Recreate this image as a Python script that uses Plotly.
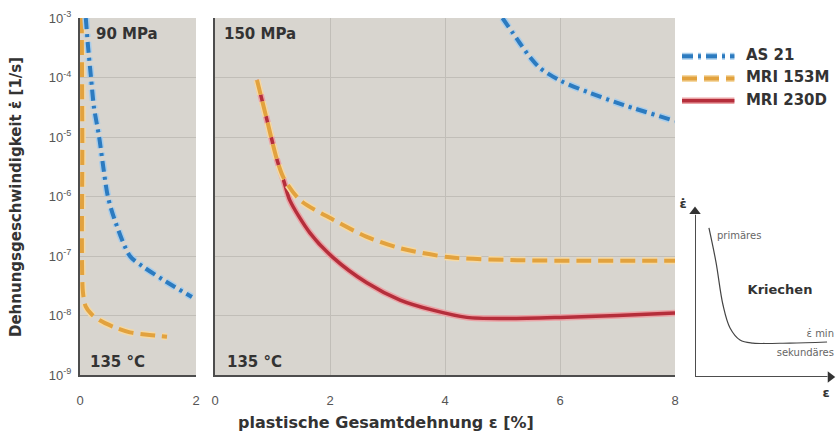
import plotly.graph_objects as go

# ---------------- data ----------------
# 90 MPa panel (left)
l_as21_x = [0.10, 0.14, 0.19, 0.24, 0.33, 0.40, 0.48, 0.60, 0.86, 1.09, 1.43, 1.93]
l_as21_y = [1e-3, 3.2e-4, 1e-4, 3.2e-5, 1e-5, 3.2e-6, 1e-6, 4e-7, 1e-7, 6.6e-8, 4e-8, 2.04e-8]
l_153_x = [0.03, 0.04, 0.05, 0.10, 0.20, 0.34, 0.60, 0.86, 1.20, 1.50]
l_153_y = [1e-3, 1e-5, 2.5e-8, 1.41e-8, 1.05e-8, 8.3e-9, 6.3e-9, 5.2e-9, 4.7e-9, 4.4e-9]

# 150 MPa panel (right)
r_as21_x = [5.0, 5.30, 5.48, 5.65, 6.0, 6.52, 7.1, 8.0]
r_as21_y = [1e-3, 3.8e-4, 2.19e-4, 1.45e-4, 8.9e-5, 5.5e-5, 3.47e-5, 1.86e-5]
r_153_x = [0.73, 0.90, 1.08, 1.20, 1.48, 2.05, 2.64, 3.22, 4.09, 5.25, 6.5, 8.0]
r_153_y = [9.1e-5, 2.0e-5, 4.1e-6, 2.0e-6, 8.7e-7, 4.1e-7, 2.1e-7, 1.35e-7, 9.5e-8, 8.5e-8, 8.3e-8, 8.3e-8]
r_230_x = [0.73, 0.90, 1.08, 1.20, 1.30, 1.65, 2.05, 2.64, 3.22, 3.79, 4.38, 5.0, 6.0, 7.0, 8.0]
r_230_y = [9.1e-5, 2.0e-5, 4.1e-6, 1.78e-6, 8.7e-7, 2.45e-7, 9.5e-8, 3.55e-8, 1.82e-8, 1.23e-8,
           9.3e-9, 8.9e-9, 9.3e-9, 1.0e-8, 1.1e-8]

# schematic inset curve (arbitrary units)
ins_x = [1.01, 1.52, 2.03, 2.54, 3.26, 4.20, 6.88, 9.57]
ins_y = [8.82, 6.80, 4.26, 2.90, 2.19, 2.01, 2.01, 2.07]

series_names = ["AS 21", "MRI 153M", "MRI 230D"]
y_tickvals = [1e-9, 1e-8, 1e-7, 1e-6, 1e-5, 1e-4, 1e-3]
y_ticktext = ["10<sup>-9</sup>", "10<sup>-8</sup>", "10<sup>-7</sup>", "10<sup>-6</sup>",
              "10<sup>-5</sup>", "10<sup>-4</sup>", "10<sup>-3</sup>"]
xl_ticks = [0, 2]
xr_ticks = [0, 2, 4, 6, 8]

# ---------------- styling ----------------
W, H = 837, 434
BLUE, BLUE_H = "#2c7bc0", "#a8cdeb"
ORNG, ORNG_H = "#e2a23e", "#f5d9a4"
RED, RED_H = "#b52e3b", "#eba3a6"
BLUE_DASH = "11px,5px,3px,5px"
ORNG_DASH = "15px,7px"
BG = "#d8d5cf"
GRID = "#c1beb8"
TXT = "#333333"
AXC = "#4d4d4d"
FONT = "Liberation Sans, Arial"
BFONT = "DejaVu Sans"

def px(x):
    return x / W

def py(y):
    return 1 - y / H

fig = go.Figure()

def add(x, y, color, halo, dash, width, xa, ya):
    fig.add_trace(go.Scatter(x=x, y=y, mode="lines", xaxis=xa, yaxis=ya,
                             line=dict(color=halo, width=width + 3, dash=dash, shape="spline", smoothing=0.8),
                             showlegend=False, hoverinfo="skip"))
    fig.add_trace(go.Scatter(x=x, y=y, mode="lines", xaxis=xa, yaxis=ya,
                             line=dict(color=color, width=width, dash=dash, shape="spline", smoothing=0.8),
                             showlegend=False))

# left panel
add(l_153_x, l_153_y, ORNG, ORNG_H, ORNG_DASH, 4, "x", "y")
add(l_as21_x, l_as21_y, BLUE, BLUE_H, BLUE_DASH, 4, "x", "y")
# right panel
add(r_230_x, r_230_y, RED, RED_H, "solid", 3.5, "x2", "y2")
add(r_153_x, r_153_y, ORNG, ORNG_H, ORNG_DASH, 4, "x2", "y2")
add(r_as21_x, r_as21_y, BLUE, BLUE_H, BLUE_DASH, 4, "x2", "y2")

# inset: schematic axes with arrow heads and curve
fig.add_trace(go.Scatter(x=[0, 0, None, 0, 9.6], y=[9.6, 0, None, 0, 0], mode="lines", xaxis="x3", yaxis="y3",
                         line=dict(color=AXC, width=2), showlegend=False, hoverinfo="skip", cliponaxis=False))
fig.add_trace(go.Scatter(x=[0, 9.8], y=[9.8, 0], mode="markers", xaxis="x3", yaxis="y3",
                         marker=dict(symbol=["triangle-up", "triangle-right"], size=10, color="#333333"),
                         showlegend=False, hoverinfo="skip", cliponaxis=False))
fig.add_trace(go.Scatter(x=ins_x, y=ins_y, mode="lines", xaxis="x3", yaxis="y3",
                         line=dict(color="#444444", width=1.2, shape="spline", smoothing=1.0),
                         showlegend=False, hoverinfo="skip"))

# manual legend in its own hidden axes (rows 2,1,0 from top)
leg_styles = [(BLUE, BLUE_H, BLUE_DASH, 4), (ORNG, ORNG_H, ORNG_DASH, 4), (RED, RED_H, "solid", 3.5)]
for i, (name, (c, h, d, w)) in enumerate(zip(series_names, leg_styles)):
    row = 2 - i
    fig.add_trace(go.Scatter(x=[0, 1], y=[row, row], mode="lines", xaxis="x4", yaxis="y4",
                             line=dict(color=h, width=w + 3, dash=d), showlegend=False, hoverinfo="skip"))
    fig.add_trace(go.Scatter(x=[0, 1], y=[row, row], mode="lines", xaxis="x4", yaxis="y4",
                             line=dict(color=c, width=w, dash=d), showlegend=False, hoverinfo="skip"))
    fig.add_trace(go.Scatter(x=[1.22], y=[row], mode="text", text=[name], textposition="middle right",
                             xaxis="x4", yaxis="y4", showlegend=False, hoverinfo="skip", cliponaxis=False,
                             textfont=dict(family=BFONT, size=15, color=TXT, weight="bold")))

# free text labels on a full-figure overlay axis measured in pixels
def label(t, x, y, size, pos="middle center", bold=True, color=TXT):
    fig.add_trace(go.Scatter(x=[x], y=[y], mode="text", text=[t], textposition=pos,
                             xaxis="x5", yaxis="y5", showlegend=False, hoverinfo="skip", cliponaxis=False,
                             textfont=dict(family=BFONT, size=size, color=color,
                                           weight="bold" if bold else "normal")))

label("90 MPa", 96, 35, 15, "middle right")
label("150 MPa", 224, 35, 15, "middle right")
label("135 °C", 90, 363, 15, "middle right")
label("135 °C", 227, 363, 15, "middle right")
label("plastische Gesamtdehnung ε [%]", 386, 424, 16)
label("ε̇", 683, 205, 13)
label("ε", 826, 394, 13)
label("primäres", 717, 236, 10, "middle right", bold=False, color="#666666")
label("Kriechen", 780, 291, 13)
label("ε̇ min", 834, 334, 10, "middle left", bold=False, color="#666666")
label("sekundäres", 834, 353, 10, "middle left", bold=False, color="#666666")

tickfont = dict(family=FONT, size=13, color="#555555")
common_y = dict(type="log", range=[-9, -3], tickvals=y_tickvals, showgrid=True, gridcolor=GRID,
                gridwidth=1, zeroline=False, showline=True, linecolor=AXC, linewidth=2,
                ticks="outside", ticklen=4, tickcolor="rgba(0,0,0,0)", domain=[py(375), py(18)])
common_x = dict(gridcolor=GRID, gridwidth=1, zeroline=False, showline=True,
                linecolor=AXC, linewidth=2, ticks="outside", ticklen=12, tickcolor="rgba(0,0,0,0)",
                tickfont=tickfont)

fig.update_layout(
    template="none",
    width=W, height=H, margin=dict(l=0, r=0, t=0, b=0, autoexpand=False),
    paper_bgcolor="white", plot_bgcolor="rgba(0,0,0,0)", showlegend=False,
    font=dict(family=FONT, color=TXT, size=12),
    xaxis=dict(domain=[px(80), px(196)], range=[0, 2], tickvals=xl_ticks, anchor="y",
               showgrid=False, **common_x),
    xaxis2=dict(domain=[px(215), px(675)], range=[0, 8], tickvals=xr_ticks, anchor="y2",
                showgrid=True, **common_x),
    yaxis=dict(anchor="x", ticktext=y_ticktext, tickfont=tickfont, **common_y),
    yaxis2=dict(anchor="x2", matches="y", showticklabels=False, **common_y),
    xaxis3=dict(domain=[px(695), px(833)], range=[0, 10], visible=False, anchor="y3"),
    yaxis3=dict(domain=[py(377), py(208)], range=[0, 10], visible=False, anchor="x3"),
    xaxis4=dict(domain=[px(682), px(834)], range=[0, 2.9], visible=False, anchor="y4"),
    yaxis4=dict(domain=[py(112), py(45)], range=[-0.5, 2.5], visible=False, anchor="x4"),
    xaxis5=dict(domain=[0, 1], range=[0, W], visible=False, anchor="y5"),
    yaxis5=dict(domain=[0, 1], range=[H, 0], visible=False, anchor="x5"),
    shapes=[
        dict(type="rect", xref="x domain", yref="y domain", x0=0, x1=1, y0=0, y1=1,
             fillcolor=BG, line=dict(width=0), layer="below"),
        dict(type="rect", xref="x2 domain", yref="y2 domain", x0=0, x1=1, y0=0, y1=1,
             fillcolor=BG, line=dict(width=0), layer="below"),
    ],
    annotations=[dict(text="Dehnungsgeschwindigkeit ε̇ [1/s]", x=px(16), y=py(197), xref="paper",
                      yref="paper", textangle=-90, showarrow=False, xanchor="center", yanchor="middle",
                      font=dict(family=BFONT, size=15, color=TXT, weight="bold"))],
)

fig.write_html("out.html", post_script="document.body.style.margin='0px';",
               config={"displayModeBar": False})
